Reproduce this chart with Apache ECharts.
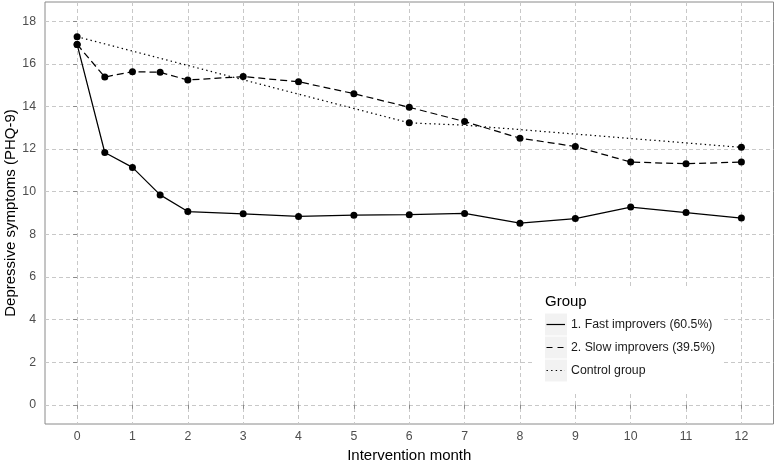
<!DOCTYPE html>
<html>
<head>
<meta charset="utf-8">
<script src="https://cdn.jsdelivr.net/npm/echarts@6/dist/echarts.min.js"></script>
<style>
html,body{margin:0;padding:0;background:#fff;}
#chart{width:777px;height:462px;}
</style>
</head>
<body>
<div id="chart"></div>
<script>
// ---- data ----
const months = [0, 0.5, 1, 1.5, 2, 3, 4, 5, 6, 7, 8, 9, 10, 11, 12];
const fastImprovers = [16.91, 11.84, 11.14, 9.85, 9.07, 8.96, 8.84, 8.90, 8.92, 8.98, 8.52, 8.74, 9.28, 9.02, 8.76];
const slowImprovers = [16.91, 15.38, 15.63, 15.60, 15.24, 15.40, 15.16, 14.60, 13.96, 13.29, 12.51, 12.12, 11.39, 11.31, 11.39];
const controlMonths = [0, 6, 7, 12];
const controlGroup = [17.27, 13.23, 13.12, 12.08];
const controlMeasured = [0, 6, 12];
const xTicks = [0, 1, 2, 3, 4, 5, 6, 7, 8, 9, 10, 11, 12];
const yTicks = [0, 2, 4, 6, 8, 10, 12, 14, 16, 18];
const seriesNames = ['1. Fast improvers (60.5%)', '2. Slow improvers (39.5%)', 'Control group'];
const legendTitle = 'Group';
const xTitle = 'Intervention month';
const yTitle = 'Depressive symptoms (PHQ-9)';

const FONT = '"Liberation Sans", Arial, Helvetica, sans-serif';
const pair = (xs, ys) => xs.map((x, i) => [x, ys[i]]);

const chart = echarts.init(document.getElementById('chart'), null, {renderer: 'canvas'});

const gridCol = '#c8c8c8';
const borderCol = '#8a8a8a';

const dashes = {solid: 'solid', dashed: [7, 4], dotted: [1.4, 3.2]};

function lineSeries(name, data, type, symbolFn) {
  return {
    name: name,
    type: 'line',
    data: data,
    symbol: 'circle',
    symbolSize: symbolFn || 7,
    showSymbol: true,
    itemStyle: {color: '#000'},
    lineStyle: {color: '#000', width: 1.25, type: type},
    emphasis: {disabled: true},
    animation: false,
    z: 3
  };
}

// legend layout (pixel positions)
const lg = {x: 534, y: 289, w: 189, h: 102, keyX: 545, keyW: 22, keyH: 23, row0: 313, textX: 571};
const legendGraphics = [
  {type: 'rect', shape: {x: lg.x, y: lg.y, width: lg.w, height: lg.h}, style: {fill: '#fff'}, z: 10},
  {type: 'text', x: lg.keyX, y: 302, style: {text: legendTitle, font: '15px ' + FONT, fill: '#000', textVerticalAlign: 'middle'}, z: 11}
];
const legendTypes = ['solid', 'dashed', 'dotted'];
seriesNames.forEach((nm, i) => {
  const top = lg.row0 + i * lg.keyH;
  const cy = top + lg.keyH / 2;
  legendGraphics.push({type: 'rect', shape: {x: lg.keyX, y: top + 0.5, width: lg.keyW, height: lg.keyH - 1}, style: {fill: '#f2f2f2'}, z: 11});
  const ld = legendTypes[i] === 'solid' ? null : (legendTypes[i] === 'dashed' ? [6, 5] : [1.4, 3.2]);
  legendGraphics.push({type: 'line', shape: {x1: lg.keyX + 1.5, y1: cy, x2: lg.keyX + lg.keyW - 2, y2: cy},
    style: {stroke: '#000', lineWidth: 1.2, lineDash: ld}, z: 12});
  legendGraphics.push({type: 'text', x: lg.textX, y: cy, style: {text: nm, font: '12.3px ' + FONT, fill: '#1a1a1a', textVerticalAlign: 'middle'}, z: 12});
});

const option = {
  backgroundColor: '#fff',
  animation: false,
  textStyle: {fontFamily: FONT},
  grid: {left: 45, right: 3.5, top: 2, bottom: 38, show: true, borderColor: borderCol, borderWidth: 1,
    backgroundColor: '#fff', containLabel: false, outerBoundsMode: 'none'},
  xAxis: {
    type: 'value', min: -0.58, max: 12.58,
    name: xTitle, nameLocation: 'middle', nameGap: 24, nameMoveOverlap: false,
    nameTextStyle: {fontSize: 15, color: '#000', fontFamily: FONT},
    axisLine: {show: false},
    axisTick: {show: true, length: 4, lineStyle: {color: borderCol}, customValues: xTicks},
    axisLabel: {fontSize: 12.3, color: '#4d4d4d', margin: 7, fontFamily: FONT, customValues: xTicks},
    splitLine: {show: true, lineStyle: {color: gridCol, type: [4, 3], width: 1}}
  },
  yAxis: {
    type: 'value', min: -0.9, max: 18.9,
    name: yTitle, nameLocation: 'middle', nameGap: 26.5, nameMoveOverlap: false,
    nameTextStyle: {fontSize: 15, color: '#000', fontFamily: FONT},
    axisLine: {show: false},
    axisTick: {show: true, length: 4, lineStyle: {color: borderCol}, customValues: yTicks},
    axisLabel: {fontSize: 12.3, color: '#4d4d4d', margin: 9, fontFamily: FONT, customValues: yTicks},
    splitLine: {show: true, lineStyle: {color: gridCol, type: [4, 3], width: 1}}
  },
  series: [
    lineSeries(seriesNames[0], pair(months, fastImprovers), dashes.solid),
    lineSeries(seriesNames[1], pair(months, slowImprovers), dashes.dashed),
    lineSeries(seriesNames[2], pair(controlMonths, controlGroup), dashes.dotted,
      (v) => controlMeasured.indexOf(v[0]) >= 0 ? 7 : 0)
  ],
  graphic: legendGraphics
};
chart.setOption(option);
</script>
</body>
</html>
